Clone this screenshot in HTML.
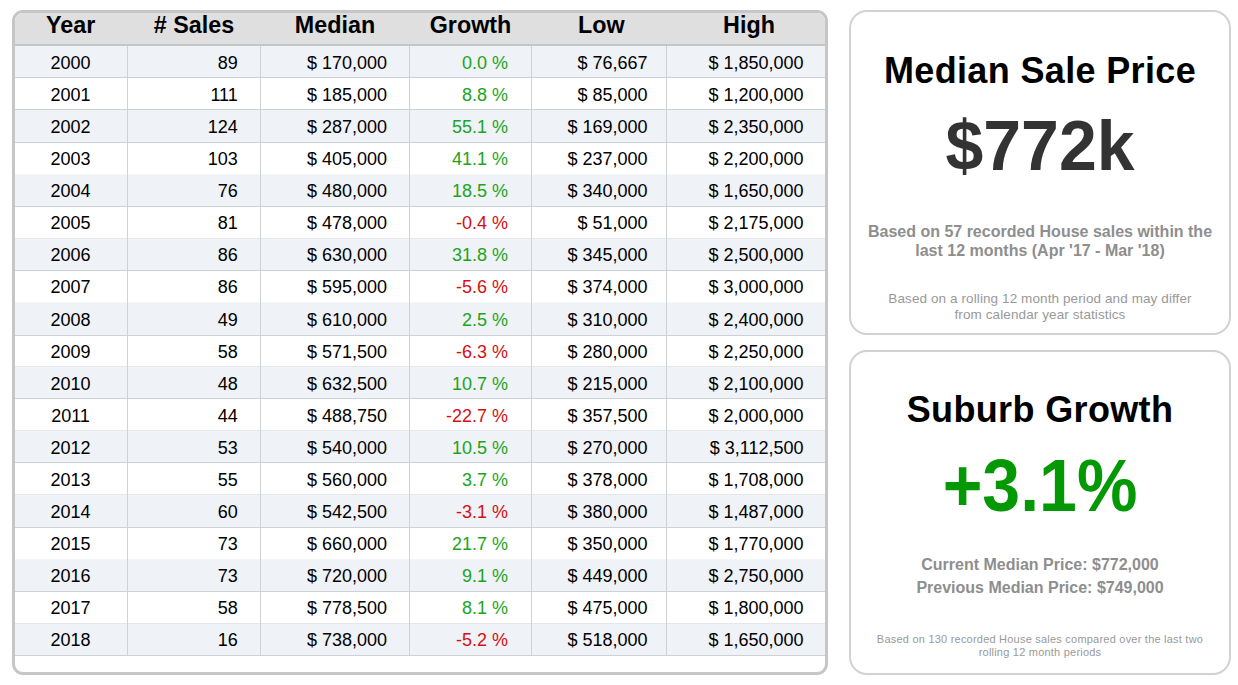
<!DOCTYPE html><html><head><meta charset="utf-8"><style>
*{margin:0;padding:0;box-sizing:border-box}
html,body{width:1238px;height:685px;background:#fff;overflow:hidden}
body{position:relative;font-family:"Liberation Sans",sans-serif;}
.tbl{position:absolute;left:12px;top:10px;width:816px;height:665px;border:3px solid #c6c6c6;border-radius:11px;overflow:hidden;background:#fff}
.hdr{position:absolute;left:0;top:0;width:810px;height:33px;background:#dfdfdf;border-bottom:2px solid #c6c6c6}
.hc{position:absolute;top:-1px;height:31px;line-height:26px;font-weight:bold;font-size:23.3px;color:#000;text-align:center;white-space:nowrap}
.row{position:absolute;left:0;width:810px}
.row.b{background:#eff2f7}
.hl{position:absolute;left:0;width:810px;height:1px;background:#cdd0d4}
.vl{position:absolute;width:1px;background:#cfd1d5}
.c{position:absolute;font-size:18px;color:#000;white-space:nowrap;line-height:20px}
.g{color:#1ca41c}
.r{color:#d41010}
.pan{position:absolute;left:849px;width:382px;height:325px;border:2px solid #d2d2d2;border-radius:18px;background:#fff;text-align:center}
.t1{position:absolute;left:0;width:378px;font-weight:bold;font-size:36px;letter-spacing:0.35px;color:#000;white-space:nowrap}
.big{position:absolute;left:0;width:378px;font-weight:bold;font-size:68px;color:#333;white-space:nowrap}
.sub{position:absolute;left:0;width:378px;font-weight:bold;font-size:16px;color:#8e8e8e;line-height:19px}
.sm{position:absolute;left:0;width:378px;font-size:13.5px;letter-spacing:0.1px;color:#999;line-height:16px}
</style></head><body>
<div class="tbl">
<div class="hdr">
<div class="hc" style="left:-44.3px;width:200px">Year</div>
<div class="hc" style="left:79.0px;width:200px"># Sales</div>
<div class="hc" style="left:220.0px;width:200px">Median</div>
<div class="hc" style="left:355.5px;width:200px">Growth</div>
<div class="hc" style="left:486.4px;width:200px">Low</div>
<div class="hc" style="left:634.0px;width:200px">High</div>
</div>
<div class="row b" style="top:33px;height:32px"></div>
<div class="hl" style="top:64px;opacity:1"></div>
<div class="c" style="left:5.5px;width:100px;text-align:center;top:39.93px">2000</div>
<div class="c" style="right:587.2px;top:39.93px">89</div>
<div class="c" style="right:438.0px;top:39.93px">$ 170,000</div>
<div class="c g" style="right:317.0px;top:39.93px">0.0 %</div>
<div class="c" style="right:177.5px;top:39.93px">$ 76,667</div>
<div class="c" style="right:21.5px;top:39.93px">$ 1,850,000</div>
<div class="row" style="top:65px;height:32px"></div>
<div class="hl" style="top:96px;opacity:1"></div>
<div class="c" style="left:5.5px;width:100px;text-align:center;top:72.00px">2001</div>
<div class="c" style="right:587.2px;top:72.00px">111</div>
<div class="c" style="right:438.0px;top:72.00px">$ 185,000</div>
<div class="c g" style="right:317.0px;top:72.00px">8.8 %</div>
<div class="c" style="right:177.5px;top:72.00px">$ 85,000</div>
<div class="c" style="right:21.5px;top:72.00px">$ 1,200,000</div>
<div class="row b" style="top:97px;height:33px"></div>
<div class="hl" style="top:129px;opacity:1"></div>
<div class="c" style="left:5.5px;width:100px;text-align:center;top:104.08px">2002</div>
<div class="c" style="right:587.2px;top:104.08px">124</div>
<div class="c" style="right:438.0px;top:104.08px">$ 287,000</div>
<div class="c g" style="right:317.0px;top:104.08px">55.1 %</div>
<div class="c" style="right:177.5px;top:104.08px">$ 169,000</div>
<div class="c" style="right:21.5px;top:104.08px">$ 2,350,000</div>
<div class="row" style="top:130px;height:32px"></div>
<div class="hl" style="top:161px;opacity:0.2"></div>
<div class="c" style="left:5.5px;width:100px;text-align:center;top:136.15px">2003</div>
<div class="c" style="right:587.2px;top:136.15px">103</div>
<div class="c" style="right:438.0px;top:136.15px">$ 405,000</div>
<div class="c g" style="right:317.0px;top:136.15px">41.1 %</div>
<div class="c" style="right:177.5px;top:136.15px">$ 237,000</div>
<div class="c" style="right:21.5px;top:136.15px">$ 2,200,000</div>
<div class="row b" style="top:162px;height:32px"></div>
<div class="hl" style="top:193px;opacity:1"></div>
<div class="c" style="left:5.5px;width:100px;text-align:center;top:168.22px">2004</div>
<div class="c" style="right:587.2px;top:168.22px">76</div>
<div class="c" style="right:438.0px;top:168.22px">$ 480,000</div>
<div class="c g" style="right:317.0px;top:168.22px">18.5 %</div>
<div class="c" style="right:177.5px;top:168.22px">$ 340,000</div>
<div class="c" style="right:21.5px;top:168.22px">$ 1,650,000</div>
<div class="row" style="top:194px;height:32px"></div>
<div class="hl" style="top:225px;opacity:0.5"></div>
<div class="c" style="left:5.5px;width:100px;text-align:center;top:200.28px">2005</div>
<div class="c" style="right:587.2px;top:200.28px">81</div>
<div class="c" style="right:438.0px;top:200.28px">$ 478,000</div>
<div class="c r" style="right:317.0px;top:200.28px">-0.4 %</div>
<div class="c" style="right:177.5px;top:200.28px">$ 51,000</div>
<div class="c" style="right:21.5px;top:200.28px">$ 2,175,000</div>
<div class="row b" style="top:226px;height:32px"></div>
<div class="hl" style="top:257px;opacity:1"></div>
<div class="c" style="left:5.5px;width:100px;text-align:center;top:232.36px">2006</div>
<div class="c" style="right:587.2px;top:232.36px">86</div>
<div class="c" style="right:438.0px;top:232.36px">$ 630,000</div>
<div class="c g" style="right:317.0px;top:232.36px">31.8 %</div>
<div class="c" style="right:177.5px;top:232.36px">$ 345,000</div>
<div class="c" style="right:21.5px;top:232.36px">$ 2,500,000</div>
<div class="row" style="top:258px;height:32px"></div>
<div class="hl" style="top:289px;opacity:0.2"></div>
<div class="c" style="left:5.5px;width:100px;text-align:center;top:264.43px">2007</div>
<div class="c" style="right:587.2px;top:264.43px">86</div>
<div class="c" style="right:438.0px;top:264.43px">$ 595,000</div>
<div class="c r" style="right:317.0px;top:264.43px">-5.6 %</div>
<div class="c" style="right:177.5px;top:264.43px">$ 374,000</div>
<div class="c" style="right:21.5px;top:264.43px">$ 3,000,000</div>
<div class="row b" style="top:290px;height:33px"></div>
<div class="hl" style="top:322px;opacity:1"></div>
<div class="c" style="left:5.5px;width:100px;text-align:center;top:296.50px">2008</div>
<div class="c" style="right:587.2px;top:296.50px">49</div>
<div class="c" style="right:438.0px;top:296.50px">$ 610,000</div>
<div class="c g" style="right:317.0px;top:296.50px">2.5 %</div>
<div class="c" style="right:177.5px;top:296.50px">$ 310,000</div>
<div class="c" style="right:21.5px;top:296.50px">$ 2,400,000</div>
<div class="row" style="top:323px;height:31px"></div>
<div class="hl" style="top:353px;opacity:0.5"></div>
<div class="c" style="left:5.5px;width:100px;text-align:center;top:328.56px">2009</div>
<div class="c" style="right:587.2px;top:328.56px">58</div>
<div class="c" style="right:438.0px;top:328.56px">$ 571,500</div>
<div class="c r" style="right:317.0px;top:328.56px">-6.3 %</div>
<div class="c" style="right:177.5px;top:328.56px">$ 280,000</div>
<div class="c" style="right:21.5px;top:328.56px">$ 2,250,000</div>
<div class="row b" style="top:354px;height:32px"></div>
<div class="hl" style="top:385px;opacity:1"></div>
<div class="c" style="left:5.5px;width:100px;text-align:center;top:360.63px">2010</div>
<div class="c" style="right:587.2px;top:360.63px">48</div>
<div class="c" style="right:438.0px;top:360.63px">$ 632,500</div>
<div class="c g" style="right:317.0px;top:360.63px">10.7 %</div>
<div class="c" style="right:177.5px;top:360.63px">$ 215,000</div>
<div class="c" style="right:21.5px;top:360.63px">$ 2,100,000</div>
<div class="row" style="top:386px;height:32px"></div>
<div class="hl" style="top:417px;opacity:0.5"></div>
<div class="c" style="left:5.5px;width:100px;text-align:center;top:392.70px">2011</div>
<div class="c" style="right:587.2px;top:392.70px">44</div>
<div class="c" style="right:438.0px;top:392.70px">$ 488,750</div>
<div class="c r" style="right:317.0px;top:392.70px">-22.7 %</div>
<div class="c" style="right:177.5px;top:392.70px">$ 357,500</div>
<div class="c" style="right:21.5px;top:392.70px">$ 2,000,000</div>
<div class="row b" style="top:418px;height:32px"></div>
<div class="hl" style="top:449px;opacity:1"></div>
<div class="c" style="left:5.5px;width:100px;text-align:center;top:424.78px">2012</div>
<div class="c" style="right:587.2px;top:424.78px">53</div>
<div class="c" style="right:438.0px;top:424.78px">$ 540,000</div>
<div class="c g" style="right:317.0px;top:424.78px">10.5 %</div>
<div class="c" style="right:177.5px;top:424.78px">$ 270,000</div>
<div class="c" style="right:21.5px;top:424.78px">$ 3,112,500</div>
<div class="row" style="top:450px;height:32px"></div>
<div class="hl" style="top:481px;opacity:0.5"></div>
<div class="c" style="left:5.5px;width:100px;text-align:center;top:456.85px">2013</div>
<div class="c" style="right:587.2px;top:456.85px">55</div>
<div class="c" style="right:438.0px;top:456.85px">$ 560,000</div>
<div class="c g" style="right:317.0px;top:456.85px">3.7 %</div>
<div class="c" style="right:177.5px;top:456.85px">$ 378,000</div>
<div class="c" style="right:21.5px;top:456.85px">$ 1,708,000</div>
<div class="row b" style="top:482px;height:33px"></div>
<div class="hl" style="top:514px;opacity:1"></div>
<div class="c" style="left:5.5px;width:100px;text-align:center;top:488.92px">2014</div>
<div class="c" style="right:587.2px;top:488.92px">60</div>
<div class="c" style="right:438.0px;top:488.92px">$ 542,500</div>
<div class="c r" style="right:317.0px;top:488.92px">-3.1 %</div>
<div class="c" style="right:177.5px;top:488.92px">$ 380,000</div>
<div class="c" style="right:21.5px;top:488.92px">$ 1,487,000</div>
<div class="row" style="top:515px;height:32px"></div>
<div class="hl" style="top:546px;opacity:0.2"></div>
<div class="c" style="left:5.5px;width:100px;text-align:center;top:520.98px">2015</div>
<div class="c" style="right:587.2px;top:520.98px">73</div>
<div class="c" style="right:438.0px;top:520.98px">$ 660,000</div>
<div class="c g" style="right:317.0px;top:520.98px">21.7 %</div>
<div class="c" style="right:177.5px;top:520.98px">$ 350,000</div>
<div class="c" style="right:21.5px;top:520.98px">$ 1,770,000</div>
<div class="row b" style="top:547px;height:32px"></div>
<div class="hl" style="top:578px;opacity:1"></div>
<div class="c" style="left:5.5px;width:100px;text-align:center;top:553.05px">2016</div>
<div class="c" style="right:587.2px;top:553.05px">73</div>
<div class="c" style="right:438.0px;top:553.05px">$ 720,000</div>
<div class="c g" style="right:317.0px;top:553.05px">9.1 %</div>
<div class="c" style="right:177.5px;top:553.05px">$ 449,000</div>
<div class="c" style="right:21.5px;top:553.05px">$ 2,750,000</div>
<div class="row" style="top:579px;height:32px"></div>
<div class="hl" style="top:610px;opacity:0.5"></div>
<div class="c" style="left:5.5px;width:100px;text-align:center;top:585.12px">2017</div>
<div class="c" style="right:587.2px;top:585.12px">58</div>
<div class="c" style="right:438.0px;top:585.12px">$ 778,500</div>
<div class="c g" style="right:317.0px;top:585.12px">8.1 %</div>
<div class="c" style="right:177.5px;top:585.12px">$ 475,000</div>
<div class="c" style="right:21.5px;top:585.12px">$ 1,800,000</div>
<div class="row b" style="top:611px;height:32px"></div>
<div class="hl" style="top:642px;opacity:1"></div>
<div class="c" style="left:5.5px;width:100px;text-align:center;top:617.19px">2018</div>
<div class="c" style="right:587.2px;top:617.19px">16</div>
<div class="c" style="right:438.0px;top:617.19px">$ 738,000</div>
<div class="c r" style="right:317.0px;top:617.19px">-5.2 %</div>
<div class="c" style="right:177.5px;top:617.19px">$ 518,000</div>
<div class="c" style="right:21.5px;top:617.19px">$ 1,650,000</div>
<div class="vl" style="left:112px;top:33px;height:609px"></div>
<div class="vl" style="left:245px;top:33px;height:609px"></div>
<div class="vl" style="left:394px;top:33px;height:609px"></div>
<div class="vl" style="left:516px;top:33px;height:609px"></div>
<div class="vl" style="left:651px;top:33px;height:609px"></div>
</div>
<div class="pan" style="top:10px">
<div class="t1" style="top:38px">Median Sale Price</div>
<div class="big" style="top:95px;transform:scaleY(1.04);transform-origin:50% 75%">$772k</div>
<div class="sub" style="top:210px">Based on 57 recorded House sales within the<br>last 12 months (Apr '17 - Mar '18)</div>
<div class="sm" style="top:279px">Based on a rolling 12 month period and may differ<br>from calendar year statistics</div>
</div>
<div class="pan" style="top:350px">
<div class="t1" style="top:37px">Suburb Growth</div>
<div class="big" style="top:96px;color:#049904;transform:scaleY(1.08);transform-origin:50% 75%">+3.1%</div>
<div class="sub" style="top:201px;line-height:23px">Current Median Price: $772,000<br>Previous Median Price: $749,000</div>
<div class="sm" style="top:281px;font-size:11px;line-height:13px;letter-spacing:0.22px">Based on 130 recorded House sales compared over the last two<br>rolling 12 month periods</div>
</div>
</body></html>
